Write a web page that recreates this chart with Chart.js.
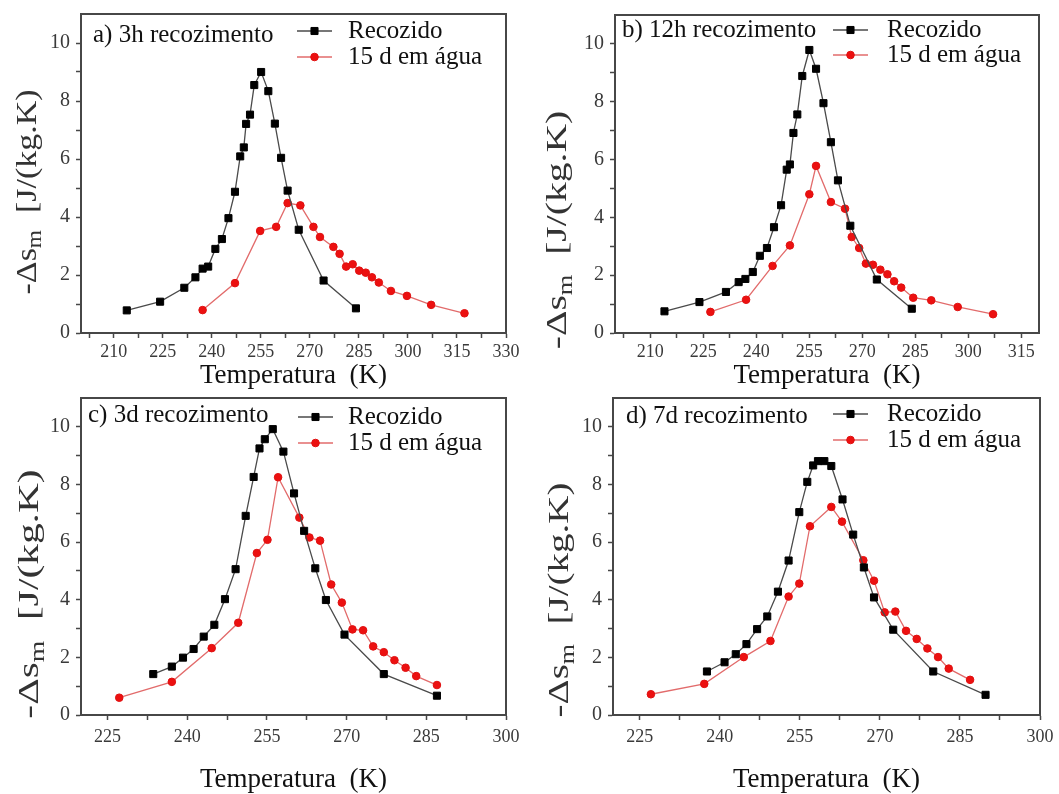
<!DOCTYPE html>
<html>
<head>
<meta charset="utf-8">
<script src="https://cdn.jsdelivr.net/npm/chart.js@4.4.0/dist/chart.umd.min.js"></script>
<style>
  body { margin: 0; background: #fff; width: 1059px; height: 794px; position: relative; overflow: hidden; }
  canvas { position: absolute; }
</style>
</head>
<body>
<canvas id="ca" width="530" height="390" style="left:0;top:0"></canvas>
<canvas id="cb" width="529" height="390" style="left:530px;top:0"></canvas>
<canvas id="cc" width="530" height="404" style="left:0;top:390px"></canvas>
<canvas id="cd" width="529" height="404" style="left:530px;top:390px"></canvas>
<script>
// a) 3h recozimento
const tempA_rec = [214, 224.2, 231.6, 235, 237.2, 238.9, 241.1, 243.1, 245.1, 247.1, 248.7, 249.8, 250.5, 251.7, 253, 255.1, 257.3, 259.3, 261.2, 263.2, 266.6, 274.2, 284.1];
const dsA_rec = [0.78, 1.08, 1.56, 1.92, 2.22, 2.29, 2.9, 3.24, 3.96, 4.87, 6.09, 6.4, 7.21, 7.53, 8.55, 9.0, 8.34, 7.22, 6.04, 4.91, 3.56, 1.81, 0.85];
const tempA_agua = [237.2, 247.1, 254.8, 259.7, 263.2, 267.1, 271.1, 273.1, 277.2, 279.1, 281.1, 283.1, 285.1, 287.1, 289, 291.1, 294.8, 299.7, 307.1, 317.3];
const dsA_agua = [0.79, 1.72, 3.52, 3.66, 4.48, 4.4, 3.66, 3.31, 2.97, 2.73, 2.29, 2.37, 2.15, 2.08, 1.92, 1.74, 1.45, 1.28, 0.97, 0.68];

// b) 12h recozimento
const tempB_rec = [214, 223.9, 231.4, 235, 236.9, 239, 241, 243, 245, 247, 248.6, 249.5, 250.5, 251.6, 253, 255, 256.9, 259, 261.1, 263.1, 266.6, 274.1, 284];
const dsB_rec = [0.75, 1.07, 1.42, 1.76, 1.87, 2.11, 2.67, 2.94, 3.66, 4.42, 5.65, 5.83, 6.92, 7.56, 8.89, 9.79, 9.14, 7.95, 6.6, 5.28, 3.71, 1.85, 0.84];
const tempB_agua = [227, 237.1, 244.6, 249.5, 255, 256.9, 261.1, 265.1, 267, 269.1, 271, 273, 275.1, 277.1, 279, 281, 284.4, 289.5, 297, 307];
const dsB_agua = [0.73, 1.15, 2.32, 3.03, 4.8, 5.78, 4.53, 4.3, 3.32, 2.94, 2.4, 2.36, 2.19, 2.03, 1.79, 1.57, 1.22, 1.13, 0.9, 0.65];

// c) 3d recozimento
const tempC_rec = [233.6, 237.1, 239.2, 241.2, 243.1, 245.1, 247.1, 249.1, 251, 252.5, 253.6, 254.6, 256.1, 258.1, 260.1, 262, 264.1, 266.1, 269.6, 277, 287];
const dsC_rec = [1.42, 1.68, 1.99, 2.29, 2.72, 3.13, 4.02, 5.06, 6.91, 8.26, 9.25, 9.57, 9.92, 9.14, 7.69, 6.39, 5.09, 3.99, 2.79, 1.42, 0.67];
const tempC_agua = [227.2, 237.1, 244.6, 249.6, 253.1, 255.1, 257.1, 261.1, 263, 265, 267.1, 269.1, 271.1, 273.1, 275, 277, 279, 281.1, 283.1, 287];
const dsC_agua = [0.6, 1.15, 2.32, 3.2, 5.62, 6.08, 8.25, 6.85, 6.16, 6.05, 4.53, 3.9, 2.97, 2.94, 2.38, 2.18, 1.9, 1.64, 1.35, 1.04];

// d) 7d recozimento
const tempD_rec = [237.6, 240.9, 243, 245, 247, 248.9, 250.9, 252.9, 254.9, 256.4, 257.5, 258.4, 259.6, 260.9, 263, 265, 267, 268.9, 272.5, 280, 289.8];
const dsD_rec = [1.51, 1.83, 2.11, 2.46, 2.98, 3.42, 4.28, 5.36, 7.04, 8.09, 8.66, 8.81, 8.81, 8.64, 7.48, 6.26, 5.12, 4.08, 2.96, 1.51, 0.7];
const tempD_agua = [227.1, 237.1, 244.5, 249.5, 252.9, 254.9, 256.9, 260.9, 262.9, 266.9, 268.9, 270.9, 272.9, 274.9, 276.9, 278.9, 280.9, 282.9, 286.9];
const dsD_agua = [0.72, 1.08, 2.01, 2.57, 4.11, 4.56, 6.55, 7.22, 6.71, 5.37, 4.66, 3.56, 3.59, 2.92, 2.64, 2.31, 2.01, 1.61, 1.22];

// axis tick labels
const tempLabelsA = [210, 225, 240, 255, 270, 285, 300, 315, 330];
const tempLabelsB = [210, 225, 240, 255, 270, 285, 300, 315];
const tempLabelsCD = [225, 240, 255, 270, 285, 300];
const dsLabels = [0, 2, 4, 6, 8, 10];

const seriesNames = ['Recozido', '15 d em água'];

const SERIF = '"Liberation Serif", "Times New Roman", serif';
const AXIS_COLOR = '#474747';

function points(xs, ys) {
  return xs.map((x, i) => ({ x: x, y: ys[i] }));
}

// major ticks plus one minor tick half way between each pair
function withMinor(major, min, max) {
  const half = (major[1] - major[0]) / 2;
  const out = [];
  for (let v = major[0] - half; v <= max + 1e-6; v += half) {
    if (v >= min - 1e-6) out.push(Math.round(v * 10) / 10);
  }
  return out;
}

// frame, panel caption, legend and y title (with subscript)
const decorations = {
  id: 'decorations',
  afterDraw(chart, args, opts) {
    const { ctx, chartArea: a } = chart;
    ctx.save();
    // top and right sides of the box
    ctx.strokeStyle = AXIS_COLOR;
    ctx.lineWidth = 2;
    ctx.beginPath();
    ctx.moveTo(a.left, a.top);
    ctx.lineTo(a.right, a.top);
    ctx.lineTo(a.right, a.bottom);
    ctx.stroke();

    // caption
    ctx.fillStyle = '#111';
    ctx.font = `25px ${SERIF}`;
    ctx.textBaseline = 'alphabetic';
    ctx.fillText(opts.caption, a.left + opts.capX, a.top + opts.capY);

    // legend
    const lg = opts.legend;
    chart.data.datasets.forEach((ds, i) => {
      const y = a.top + lg.rows[i];
      const x0 = a.right + lg.lineX;
      ctx.strokeStyle = ds.borderColor;
      ctx.lineWidth = ds.borderWidth;
      ctx.beginPath();
      ctx.moveTo(x0, y);
      ctx.lineTo(x0 + 35, y);
      ctx.stroke();
      ctx.fillStyle = ds.pointBackgroundColor;
      ctx.strokeStyle = ds.pointBorderColor;
      ctx.lineWidth = ds.pointBorderWidth;
      Chart.helpers.drawPoint(ctx, { pointStyle: ds.pointStyle, radius: ds.pointRadius, borderWidth: ds.pointBorderWidth, rotation: 0 }, x0 + 17.5, y);
      ctx.fillStyle = '#111';
      ctx.font = `25px ${SERIF}`;
      ctx.fillText(ds.label, a.right + lg.textX, y + 7);
    });

    // y title: -Δs_m [J/(kg.K)
    const t = opts.ytitle;
    ctx.translate(t.x, t.y);
    ctx.rotate(-Math.PI / 2);
    ctx.scale(t.stretch, 1);
    const big = `${t.size}px ${SERIF}`;
    const small = `${Math.round(t.size * 0.68)}px ${SERIF}`;
    const parts = [['-\u0394s', big, 0], ['m', small, t.size * 0.28], ['  [J/(kg.K)', big, 0]];
    let w = 0;
    parts.forEach(p => { ctx.font = p[1]; w += ctx.measureText(p[0]).width; });
    let x = -w / 2;
    ctx.fillStyle = '#333';
    ctx.textBaseline = 'middle';
    parts.forEach(p => {
      ctx.font = p[1];
      ctx.fillText(p[0], x, p[2]);
      x += ctx.measureText(p[0]).width;
    });
    ctx.restore();
  }
};

function makePanel(id, p) {
  const xTicks = withMinor(p.xLabels, p.xMin, p.xMax);
  const yTicks = withMinor(dsLabels, 0, 10);
  return new Chart(document.getElementById(id), {
    type: 'line',
    data: {
      datasets: [
        {
          label: seriesNames[0],
          data: points(p.recX, p.recY),
          borderColor: '#4a4a4a',
          borderWidth: 1.3,
          pointStyle: 'rect',
          pointRadius: 5,
          pointBackgroundColor: '#000',
          pointBorderColor: '#000',
          pointBorderWidth: 1
        },
        {
          label: seriesNames[1],
          data: points(p.aguaX, p.aguaY),
          borderColor: '#e26b6b',
          borderWidth: 1.3,
          pointStyle: 'circle',
          pointRadius: 3.8,
          pointBackgroundColor: '#ec1010',
          pointBorderColor: '#e01010',
          pointBorderWidth: 1
        }
      ]
    },
    options: {
      responsive: false,
      animation: false,
      layout: { padding: { top: p.top, right: p.right, left: 0, bottom: 0 } },
      plugins: {
        legend: { display: false },
        tooltip: { enabled: false },
        decorations: p.deco
      },
      scales: {
        x: {
          type: 'linear',
          min: p.xMin,
          max: p.xMax,
          afterBuildTicks: (s) => { s.ticks = xTicks.map(v => ({ value: v })); },
          afterFit: (s) => {
            s.height = p.xAxisH;
            s.paddingLeft = s.paddingRight = s.paddingTop = s.paddingBottom = 0;
          },
          ticks: {
            autoSkip: false,
            maxRotation: 0,
            padding: p.xTickPad,
            color: '#3a3a3a',
            font: { family: SERIF, size: 18 },
            callback: (v) => (p.xLabels.includes(v) ? String(v) : '')
          },
          grid: { drawOnChartArea: false, drawTicks: true, tickLength: 5, tickColor: AXIS_COLOR, tickWidth: 1.5 },
          border: { display: true, color: AXIS_COLOR, width: 2 },
          title: {
            display: true,
            text: 'Temperatura  (K)',
            color: '#111',
            font: { family: SERIF, size: 27, lineHeight: 1 },
            padding: { top: 0, bottom: 1 }
          }
        },
        y: {
          type: 'linear',
          min: 0,
          max: 11,
          afterBuildTicks: (s) => { s.ticks = yTicks.map(v => ({ value: v })); },
          afterFit: (s) => {
            s.width = p.yAxisW;
            s.paddingLeft = s.paddingRight = s.paddingTop = s.paddingBottom = 0;
          },
          ticks: {
            autoSkip: false,
            padding: 6,
            color: '#3a3a3a',
            font: { family: SERIF, size: 20 },
            callback: (v) => (dsLabels.includes(v) ? String(v) : '')
          },
          grid: { drawOnChartArea: false, drawTicks: true, tickLength: 5, tickColor: AXIS_COLOR, tickWidth: 1.5 },
          border: { display: true, color: AXIS_COLOR, width: 2 }
        }
      }
    },
    plugins: [decorations]
  });
}

makePanel('ca', {
  recX: tempA_rec, recY: dsA_rec, aguaX: tempA_agua, aguaY: dsA_agua,
  xLabels: tempLabelsA, xMin: 200, xMax: 330,
  top: 14, right: 24, xAxisH: 57, yAxisW: 81, xTickPad: 3,
  deco: {
    caption: 'a) 3h recozimento', capX: 12, capY: 28,
    legend: { lineX: -209, textX: -158, rows: [17, 43] },
    ytitle: { x: 28, y: 192, size: 29, stretch: 1.17 }
  }
});

makePanel('cb', {
  recX: tempB_rec, recY: dsB_rec, aguaX: tempB_agua, aguaY: dsB_agua,
  xLabels: tempLabelsB, xMin: 200, xMax: 320,
  top: 15, right: 20, xAxisH: 57, yAxisW: 85, xTickPad: 3,
  deco: {
    caption: 'b) 12h recozimento', capX: 7, capY: 22,
    legend: { lineX: -206, textX: -152, rows: [15, 40] },
    ytitle: { x: 28, y: 230, size: 30, stretch: 1.32 }
  }
});

makePanel('cc', {
  recX: tempC_rec, recY: dsC_rec, aguaX: tempC_agua, aguaY: dsC_agua,
  xLabels: tempLabelsCD, xMin: 220, xMax: 300,
  top: 8, right: 24, xAxisH: 79, yAxisW: 81, xTickPad: 6,
  deco: {
    caption: 'c) 3d recozimento', capX: 7, capY: 24,
    legend: { lineX: -208, textX: -158, rows: [19, 45] },
    ytitle: { x: 30, y: 204, size: 30, stretch: 1.38 }
  }
});

makePanel('cd', {
  recX: tempD_rec, recY: dsD_rec, aguaX: tempD_agua, aguaY: dsD_agua,
  xLabels: tempLabelsCD, xMin: 220, xMax: 300,
  top: 8, right: 19, xAxisH: 79, yAxisW: 83, xTickPad: 6,
  deco: {
    caption: 'd) 7d recozimento', capX: 13, capY: 25,
    legend: { lineX: -207, textX: -153, rows: [16, 42] },
    ytitle: { x: 30, y: 210, size: 30, stretch: 1.3 }
  }
});
</script>
</body>
</html>
